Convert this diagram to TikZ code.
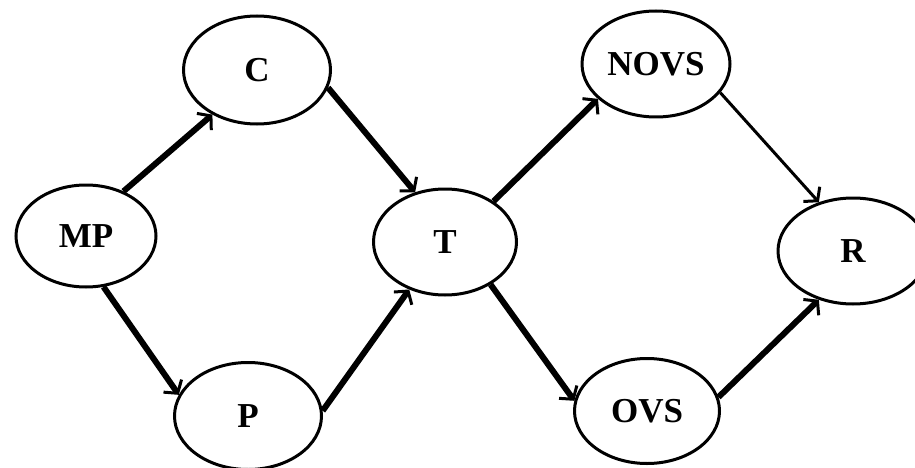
\documentclass[tikz,border=0pt]{standalone}
\usepackage{fontspec}
\setmainfont{Liberation Serif}
\usetikzlibrary{shapes.geometric,arrows.meta}
\tikzset{
  state/.style={ellipse,draw=black,line width=3pt,inner sep=0pt,
    minimum width=146pt,minimum height=106pt,
    font=\fontsize{35}{40}\selectfont\bfseries},
  flow/.style={line width=6pt,-{Straight Barb[length=9pt,width=22pt,line width=3pt]}},
  thinflow/.style={line width=3pt,-{Straight Barb[length=9pt,width=22pt,line width=3pt]}}
}
\begin{document}
\begin{tikzpicture}[x=1pt,y=-1pt]
\useasboundingbox (0,0) rectangle (915,468);
\clip (0,0) rectangle (915,468);
\node[state,minimum width=147pt,minimum height=108pt] (C) at (257,70) {C};
\node[state,minimum width=140pt,minimum height=102pt] (MP) at (86,236) {MP};
\node[state,minimum width=147pt,minimum height=107pt] (P) at (248,416) {P};
\node[state,minimum width=143pt,minimum height=106pt] (T) at (445,242) {T};
\node[state,minimum width=148pt,minimum height=106pt] (NOVS) at (656,64) {NOVS};
\node[state,minimum width=150pt,minimum height=106pt] (R) at (853,251) {R};
\node[state,minimum width=145pt,minimum height=105pt] (OVS) at (647,411) {OVS};
\draw[flow] (MP.50) -- (C.225);
\draw[flow] (C.-14) -- (T.121);
\draw[flow] (MP.-71) -- (P.163);
\draw[flow] (P.4) -- (T.233);
\draw[flow] (T.40) -- (NOVS.211);
\draw[thinflow] (NOVS.-24) -- (R.125);
\draw[flow] (T.-43) -- (OVS.172);
\draw[flow] (OVS.11) -- (R.235);
\end{tikzpicture}
\end{document}
